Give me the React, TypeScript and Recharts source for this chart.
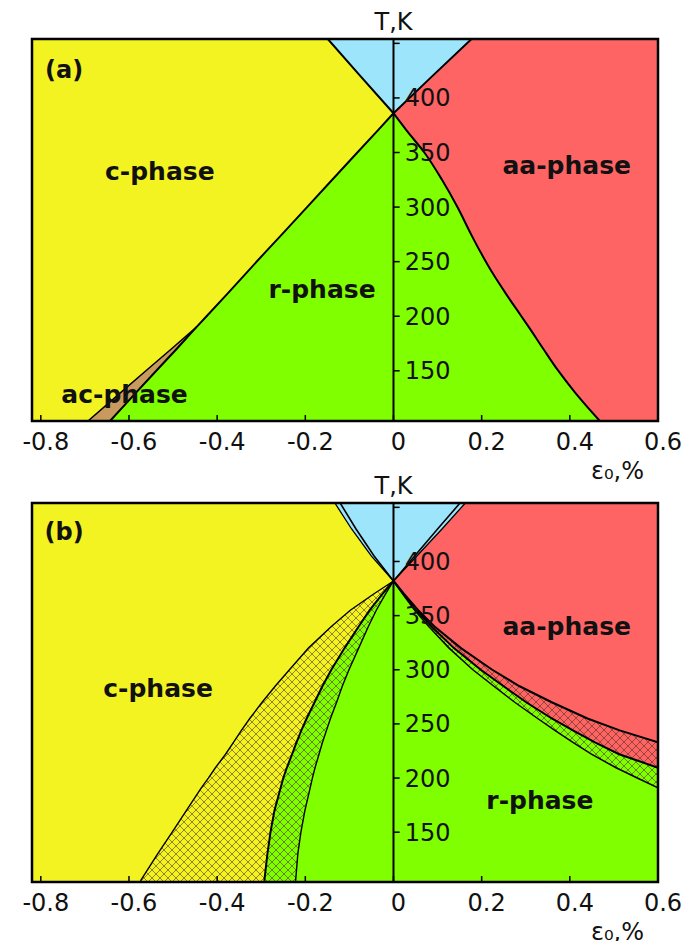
import { Area, ComposedChart, Line, ReferenceArea, ReferenceDot, ReferenceLine, XAxis, YAxis } from 'recharts'

const X_MIN = -0.82
const X_MAX = 0.6
const T_MIN = 104
const T_MAX = 454

const xTicks = [-0.8, -0.6, -0.4, -0.2, 0, 0.2, 0.4, 0.6]
const tTicks = [150, 200, 250, 300, 350, 400, 450]
const tLabels = [150, 200, 250, 300, 350, 400]

// panel (a): boundaries eps0(T)
const tempsA = [454, 420, 386, 370, 350, 325, 300, 275, 259, 240, 220, 200, 190, 170, 151, 130, 104]
const blueLeftA = [-0.149, -0.075, 0, null, null, null, null, null, null, null, null, null, null, null, null, null, null]
const blueRightA = [0.177, 0.088, 0, null, null, null, null, null, null, null, null, null, null, null, null, null, null]
const cLineA = [null, null, 0, -0.036, -0.082, -0.139, -0.196, -0.253, -0.29, -0.333, -0.378, -0.424, -0.447, -0.492, -0.536, -0.584, -0.643]
const acLineA = [null, null, null, null, null, null, null, null, null, null, null, null, -0.447, -0.504, -0.559, -0.619, -0.693]
const aaLineA = [null, null, 0, 0.03, 0.07, 0.11, 0.145, 0.176, 0.197, 0.224, 0.256, 0.29, 0.307, 0.34, 0.372, 0.412, 0.468]

// panel (b)
const tempsB = [454, 430, 405, 382, 370, 355, 340, 320, 300, 285, 270, 255, 244, 233, 222, 209.5, 200, 191, 170, 150, 130, 105]
const blueLeftOutB = [-0.133, -0.095, -0.05, 0, null, null, null, null, null, null, null, null, null, null, null, null, null, null, null, null, null, null]
const blueLeftInB = [-0.121, -0.085, -0.044, 0, null, null, null, null, null, null, null, null, null, null, null, null, null, null, null, null, null, null]
const blueRightInB = [0.151, 0.1, 0.048, 0, null, null, null, null, null, null, null, null, null, null, null, null, null, null, null, null, null, null]
const blueRightOutB = [0.163, 0.11, 0.053, 0, null, null, null, null, null, null, null, null, null, null, null, null, null, null, null, null, null, null]
const outerB = [null, null, null, 0, -0.045, -0.098, -0.141, -0.193, -0.236, -0.268, -0.298, -0.326, -0.345, -0.363, -0.381, -0.404, -0.42, -0.436, -0.47, -0.502, -0.535, -0.574]
const inner1B = [null, null, null, 0, -0.025, -0.054, -0.079, -0.111, -0.141, -0.161, -0.179, -0.197, -0.209, -0.22, -0.23, -0.242, -0.25, -0.256, -0.27, -0.279, -0.286, -0.293]
const inner2B = [null, null, null, 0, -0.018, -0.039, -0.057, -0.079, -0.101, -0.116, -0.129, -0.143, -0.152, -0.161, -0.169, -0.178, -0.184, -0.189, -0.201, -0.21, -0.217, -0.222]
const upperB = [null, null, null, 0, 0.024, 0.056, 0.093, 0.153, 0.224, 0.285, 0.359, 0.44, 0.513, 0.6, null, null, null, null, null, null, null, null]
const middleB = [null, null, null, 0, 0.022, 0.052, 0.086, 0.137, 0.198, 0.249, 0.301, 0.359, 0.407, 0.457, 0.512, 0.6, null, null, null, null, null, null]
const lowerB = [null, null, null, 0, 0.021, 0.048, 0.08, 0.126, 0.18, 0.227, 0.275, 0.327, 0.366, 0.407, 0.449, 0.505, 0.553, 0.6, null, null, null, null]

const YELLOW = '#f3f322'
const GREEN = '#80ff00'
const RED = '#ff6464'
const BLUE = '#9ce5fa'
const BROWN = '#c89a5e'

const FONT = '"DejaVu Sans", sans-serif'

type N = number | null
const span = (lo: N, hi: N) => (lo == null || hi == null ? null : [lo, hi])

// red aa-phase is the backdrop of panel (a); the other phases are laid on top
const rowsA = tempsA.map((T, i) => ({
  T,
  red: [X_MIN, X_MAX],
  yellow: [X_MIN, blueLeftA[i] ?? acLineA[i] ?? cLineA[i]],
  blue: span(blueLeftA[i], blueRightA[i]),
  brown: span(acLineA[i], cLineA[i]),
  green: span(cLineA[i], aaLineA[i]),
  blueLeft: blueLeftA[i],
  blueRight: blueRightA[i],
  cLine: cLineA[i],
  acLine: acLineA[i],
  aaLine: aaLineA[i]
}))

const rowsB = tempsB.map((T, i) => ({
  T,
  yellow: [X_MIN, blueLeftOutB[i] ?? outerB[i]],
  blue: span(blueLeftOutB[i], blueRightOutB[i]),
  hatchY: span(outerB[i], inner1B[i]),
  hatchG: span(inner1B[i], inner2B[i]),
  green: span(inner2B[i], inner2B[i] == null ? null : lowerB[i] ?? X_MAX),
  hatchGR: span(lowerB[i], lowerB[i] == null ? null : middleB[i] ?? X_MAX),
  hatchR: span(middleB[i], middleB[i] == null ? null : upperB[i] ?? X_MAX),
  red: span(blueRightOutB[i] ?? upperB[i], X_MAX),
  blueLeftOut: blueLeftOutB[i],
  blueLeftIn: blueLeftInB[i],
  blueRightIn: blueRightInB[i],
  blueRightOut: blueRightOutB[i],
  outer: outerB[i],
  inner1: inner1B[i],
  inner2: inner2B[i],
  upper: upperB[i],
  middle: middleB[i],
  lower: lowerB[i]
}))

type Curve = 'linear' | 'monotone'
type Note = { text: string; x: number; t: number; size: number }
type PanelProps = {
  id: string
  rows: object[]
  areas: { key: string; fill: string; curve?: Curve }[]
  lines: { key: string; width: number; curve?: Curve }[]
  notes: Note[]
  top: number
  height: number
  marginTop: number
  marginBottom: number
}

const Hatch = ({ id, bg }: { id: string; bg: string }) => (
  <pattern id={id} width={8} height={8} patternUnits="userSpaceOnUse">
    <rect width={8} height={8} fill={bg} />
    <path d="M0,0L8,8M8,0L0,8" stroke="#4a2a18" strokeOpacity={0.7} strokeWidth={0.8} />
  </pattern>
)

const Panel = ({ id, rows, areas, lines, notes, top, height, marginTop, marginBottom }: PanelProps) => (
  <div style={{ position: 'absolute', left: 0, top }}>
    <ComposedChart
      layout="vertical"
      width={694}
      height={height}
      data={rows}
      margin={{ top: marginTop, right: 36, bottom: marginBottom, left: 32 }}
    >
      <defs>
        <Hatch id={`${id}-hy`} bg={YELLOW} />
        <Hatch id={`${id}-hg`} bg={GREEN} />
        <Hatch id={`${id}-hr`} bg={RED} />
      </defs>
      <XAxis
        type="number"
        domain={[X_MIN, X_MAX]}
        ticks={xTicks}
        allowDataOverflow
        axisLine={false}
        tickSize={-6}
        tickMargin={18}
        tickLine={{ stroke: '#000', strokeWidth: 1.5 }}
        tick={{ fill: '#111', fontSize: 24, fontFamily: FONT, dx: 5 }}
        height={72}
        label={{ value: 'ε₀,%', position: 'insideBottomRight', offset: 14, fill: '#111', fontSize: 24, fontFamily: FONT }}
      />
      <YAxis type="number" dataKey="T" domain={[T_MIN, T_MAX]} reversed allowDataOverflow hide />
      {areas.map((a) => (
        <Area
          key={a.key}
          dataKey={a.key}
          type={a.curve ?? 'linear'}
          fill={a.fill.startsWith('#') ? a.fill : `url(#${id}-${a.fill})`}
          fillOpacity={1}
          stroke="none"
          dot={false}
          activeDot={false}
          isAnimationActive={false}
        />
      ))}
      {lines.map((l) => (
        <Line
          key={l.key}
          dataKey={l.key}
          type={l.curve ?? 'linear'}
          stroke="#000"
          strokeWidth={l.width}
          dot={false}
          activeDot={false}
          isAnimationActive={false}
        />
      ))}
      <ReferenceLine
        x={0}
        stroke="#000"
        strokeWidth={2}
        label={{ value: 'T,K', position: 'top', offset: 9, fill: '#111', fontSize: 24, fontFamily: FONT }}
      />
      {tTicks.map((t) => (
        <ReferenceLine
          key={t}
          segment={[{ x: 0, y: t }, { x: 0.014, y: t }]}
          stroke="#000"
          strokeWidth={1.5}
          label={
            tLabels.includes(t)
              ? { value: String(t), position: 'right', offset: 5, fill: '#111', fontSize: 24, fontFamily: FONT }
              : undefined
          }
        />
      ))}
      {notes.map((n) => (
        <ReferenceDot
          key={n.text}
          x={n.x}
          y={n.t}
          r={0}
          fill="none"
          stroke="none"
          label={{ value: n.text, position: 'center', fill: '#111', fontSize: n.size, fontWeight: 'bold', fontFamily: FONT }}
        />
      ))}
      <ReferenceArea
        x1={X_MIN}
        x2={X_MAX}
        y1={T_MIN}
        y2={T_MAX}
        fill="none"
        fillOpacity={0}
        stroke="#000"
        strokeWidth={2.5}
        ifOverflow="visible"
      />
    </ComposedChart>
  </div>
)

export default function App() {
  return (
    <div style={{ position: 'relative', width: 694, height: 949, margin: -8, overflow: 'hidden', background: '#fff' }}>
      <Panel
        id="pa"
        rows={rowsA}
        top={0}
        height={500}
        marginTop={39}
        marginBottom={7}
        areas={[
          { key: 'red', fill: RED },
          { key: 'yellow', fill: YELLOW },
          { key: 'blue', fill: BLUE },
          { key: 'brown', fill: BROWN },
          { key: 'green', fill: GREEN, curve: 'monotone' }
        ]}
        lines={[
          { key: 'blueLeft', width: 2 },
          { key: 'blueRight', width: 2 },
          { key: 'cLine', width: 2 },
          { key: 'acLine', width: 1.5 },
          { key: 'aaLine', width: 2, curve: 'monotone' }
        ]}
        notes={[
          { text: '(a)', x: -0.747, t: 426, size: 24 },
          { text: 'c-phase', x: -0.53, t: 333, size: 25 },
          { text: 'r-phase', x: -0.162, t: 225, size: 25 },
          { text: 'aa-phase', x: 0.393, t: 338, size: 25 },
          { text: 'ac-phase', x: -0.61, t: 129, size: 25 }
        ]}
      />
      <Panel
        id="pb"
        rows={rowsB}
        top={470}
        height={490}
        marginTop={33}
        marginBottom={6}
        areas={[
          { key: 'yellow', fill: YELLOW },
          { key: 'blue', fill: BLUE },
          { key: 'hatchY', fill: 'hy' },
          { key: 'hatchG', fill: 'hg' },
          { key: 'green', fill: GREEN },
          { key: 'hatchGR', fill: 'hg' },
          { key: 'hatchR', fill: 'hr' },
          { key: 'red', fill: RED }
        ]}
        lines={[
          { key: 'blueLeftOut', width: 1.3 },
          { key: 'blueLeftIn', width: 1.6 },
          { key: 'blueRightIn', width: 1.6 },
          { key: 'blueRightOut', width: 1.3 },
          { key: 'outer', width: 1.4 },
          { key: 'inner1', width: 2 },
          { key: 'inner2', width: 1.4 },
          { key: 'upper', width: 2 },
          { key: 'middle', width: 2 },
          { key: 'lower', width: 1.5 }
        ]}
        notes={[
          { text: '(b)', x: -0.747, t: 428, size: 24 },
          { text: 'c-phase', x: -0.534, t: 283, size: 25 },
          { text: 'aa-phase', x: 0.393, t: 340, size: 25 },
          { text: 'r-phase', x: 0.332, t: 180, size: 25 }
        ]}
      />
    </div>
  )
}
